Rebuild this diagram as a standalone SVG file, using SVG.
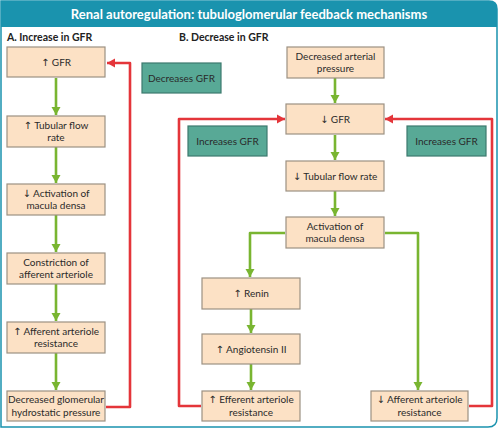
<svg xmlns="http://www.w3.org/2000/svg" width="500" height="429" viewBox="0 0 500 429">
<style>
.box{fill:#fce1c5;stroke:#9c9182;stroke-width:1.2}
.tbox{fill:#58a996;stroke:#3c7a6e;stroke-width:1.2}
.t{font-family:Lato,"Noto Sans",sans-serif;font-size:10px;fill:#2a2a2a;text-anchor:middle}
.h{font-family:Lato,"Noto Sans",sans-serif;font-size:10.5px;font-weight:bold;fill:#222}
.ar{font-family:"DejaVu Sans",sans-serif;font-size:10px}
.g{stroke:#79b531;stroke-width:2.6;fill:none}
.r{stroke:#e4353a;stroke-width:2.6;fill:none;stroke-linejoin:round}
</style>
<defs>
<marker id="ag" markerUnits="userSpaceOnUse" markerWidth="10" markerHeight="10" refX="8" refY="5" orient="auto"><path d="M0,0.5 L8,5 L0,9.5 Z" fill="#79b531"/></marker>
<marker id="ar" markerUnits="userSpaceOnUse" markerWidth="10" markerHeight="10" refX="8" refY="5" orient="auto"><path d="M0,0.5 L8,5 L0,9.5 Z" fill="#e4353a"/></marker>
</defs>
<g id="frame">
<path d="M1,1 H489 Q497,1 497,9 V418 Q497,427 488,427 H1 Z" fill="#fff" stroke="#1a93ae" stroke-width="1.5"/>
<path d="M1,1 H489 Q497,1 497,9 V27 H1 Z" fill="#1a93ae"/>
<text x="249" y="19" font-family="Lato,'Noto Sans',sans-serif" font-size="13" font-weight="bold" fill="#fff" text-anchor="middle">Renal autoregulation: tubuloglomerular feedback mechanisms</text>
<text class="h" x="7" y="41">A. Increase in GFR</text>
<text class="h" x="179" y="41">B. Decrease in GFR</text>
</g>
<g id="connectors">
<path class="g" d="M56,78 V115" marker-end="url(#ag)"/>
<path class="g" d="M56,147 V183" marker-end="url(#ag)"/>
<path class="g" d="M56,215 V252" marker-end="url(#ag)"/>
<path class="g" d="M56,284 V321" marker-end="url(#ag)"/>
<path class="g" d="M56,353 V390" marker-end="url(#ag)"/>
<path class="r" d="M106,407 H130 V63 H107" marker-end="url(#ar)"/>
<path class="g" d="M335,78 V103" marker-end="url(#ag)"/>
<path class="g" d="M335,135 V160" marker-end="url(#ag)"/>
<path class="g" d="M335,191 V216" marker-end="url(#ag)"/>
<path class="g" d="M285,233 H250 V277" marker-end="url(#ag)" stroke-linejoin="round"/>
<path class="g" d="M385,233 H418 V390" marker-end="url(#ag)" stroke-linejoin="round"/>
<path class="g" d="M251,309 V333" marker-end="url(#ag)"/>
<path class="g" d="M251,364 V390" marker-end="url(#ag)"/>
<path class="r" d="M201,406 H179 V119 H285" marker-end="url(#ar)"/>
<path class="r" d="M469,406 H492 V119 H385" marker-end="url(#ar)"/>
</g>
<g id="a1"><rect class="box" x="7" y="47" width="98" height="30"/><text class="t" x="56" y="65.5"><tspan class="ar">↑</tspan> GFR</text></g>
<g id="a2"><rect class="box" x="7" y="116" width="98" height="31"/><text class="t" x="56" y="128.5"><tspan class="ar">↑</tspan> Tubular flow</text><text class="t" x="56" y="141">rate</text></g>
<g id="a3"><rect class="box" x="7" y="184" width="98" height="31"/><text class="t" x="56" y="196.5"><tspan class="ar">↓</tspan> Activation of</text><text class="t" x="56" y="209">macula densa</text></g>
<g id="a4"><rect class="box" x="7" y="253" width="98" height="31"/><text class="t" x="56" y="265.5">Constriction of</text><text class="t" x="56" y="278">afferent arteriole</text></g>
<g id="a5"><rect class="box" x="7" y="322" width="98" height="31"/><text class="t" x="56" y="334.5"><tspan class="ar">↑</tspan> Afferent arteriole</text><text class="t" x="56" y="347">resistance</text></g>
<g id="a6"><rect class="box" x="7" y="391" width="98" height="30"/><text class="t" x="56" y="403">Decreased glomerular</text><text class="t" x="56" y="415.5">hydrostatic pressure</text></g>
<g id="decGFR"><rect class="tbox" x="142" y="63" width="79" height="30"/><text class="t" x="181.5" y="81.5">Decreases GFR</text></g>
<g id="b1"><rect class="box" x="287" y="47" width="97" height="31"/><text class="t" x="335.5" y="59.5">Decreased arterial</text><text class="t" x="335.5" y="72">pressure</text></g>
<g id="b2"><rect class="box" x="286" y="104" width="98" height="30"/><text class="t" x="335" y="122.5"><tspan class="ar">↓</tspan> GFR</text></g>
<g id="incL"><rect class="tbox" x="188" y="126" width="79" height="30"/><text class="t" x="227.5" y="144.5">Increases GFR</text></g>
<g id="incR"><rect class="tbox" x="407" y="126" width="79" height="30"/><text class="t" x="446.5" y="144.5">Increases GFR</text></g>
<g id="b3"><rect class="box" x="286" y="161" width="98" height="30"/><text class="t" x="335" y="179.5"><tspan class="ar">↓</tspan> Tubular flow rate</text></g>
<g id="b4"><rect class="box" x="286" y="217" width="98" height="31"/><text class="t" x="335" y="229.5">Activation of</text><text class="t" x="335" y="242">macula densa</text></g>
<g id="b5"><rect class="box" x="202" y="278" width="98" height="31"/><text class="t" x="251" y="297"><tspan class="ar">↑</tspan> Renin</text></g>
<g id="b6"><rect class="box" x="202" y="334" width="98" height="30"/><text class="t" x="251" y="352.5"><tspan class="ar">↑</tspan> Angiotensin II</text></g>
<g id="b7"><rect class="box" x="202" y="391" width="98" height="30"/><text class="t" x="251" y="403"><tspan class="ar">↑</tspan> Efferent arteriole</text><text class="t" x="251" y="415.5">resistance</text></g>
<g id="b8"><rect class="box" x="371" y="391" width="97" height="30"/><text class="t" x="419.5" y="403"><tspan class="ar">↓</tspan> Afferent arteriole</text><text class="t" x="419.5" y="415.5">resistance</text></g>
</svg>
